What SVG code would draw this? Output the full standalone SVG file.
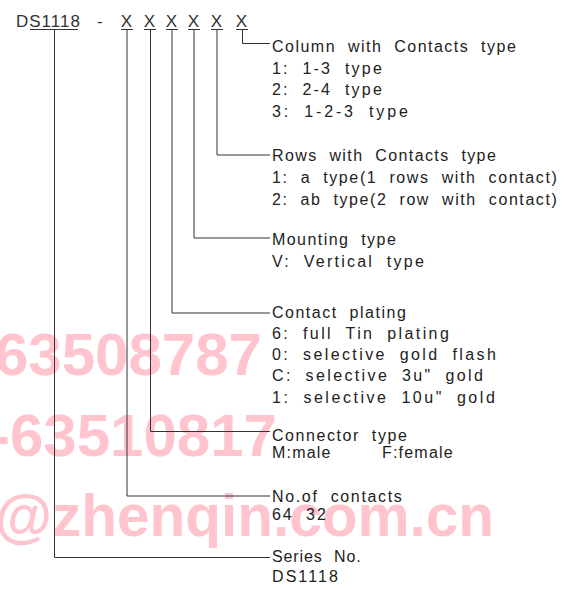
<svg xmlns="http://www.w3.org/2000/svg" width="574" height="589" viewBox="0 0 574 589">
<style>
.t{font-family:"Liberation Sans",Arial,sans-serif;font-size:16px;fill:#222;letter-spacing:1.2px;word-spacing:6px}
.h{font-family:"Liberation Sans",Arial,sans-serif;font-size:17px;fill:#333;letter-spacing:1px}
.wm{font-family:"Liberation Sans",Arial,sans-serif;font-size:60px;font-weight:bold;fill:#ffc4cd}
.ln{fill:none;stroke:#333;stroke-width:1}
</style>
<rect width="574" height="589" fill="#fff"/>
<g id="watermark">
<text class="wm" x="-5" y="375">63508787</text>
<text class="wm" x="-10" y="456">-63510817</text>
<text class="wm" x="-5" y="536" style="font-size:58.5px">@zhenqin.com.cn</text>
</g>
<g id="code">
<text class="h" x="16" y="27">DS1118</text>
<text class="h" x="97" y="27">-</text>
<text class="h" y="27" text-anchor="middle"><tspan x="127">X</tspan><tspan x="150">X</tspan><tspan x="172">X</tspan><tspan x="194">X</tspan><tspan x="217">X</tspan><tspan x="242">X</tspan></text>
</g>
<g id="connectors">
<path class="ln" d="M30 29.5H78M121 29.5H133M144 29.5H156M166 29.5H178M188 29.5H200M211 29.5H223M236 29.5H248"/>
<path class="ln" d="M54.5 29.5V557.5H270"/>
<path class="ln" d="M127 29.5V496H270"/>
<path class="ln" d="M150.5 29.5V431.5H270"/>
<path class="ln" d="M172 29.5V313H270"/>
<path class="ln" d="M194 29.5V238H270"/>
<path class="ln" d="M217 29.5V155H270"/>
<path class="ln" d="M242.5 29.5V43.5H270"/>
</g>
<g id="column">
<text class="t" x="272" y="51.5" textLength="245">Column with Contacts type</text>
<text class="t" x="272" y="73.5" textLength="111">1: 1-3 type</text>
<text class="t" x="272" y="95" textLength="111">2: 2-4 type</text>
<text class="t" x="272" y="116.5" textLength="137">3: 1-2-3 type</text>
</g>
<g id="rows">
<text class="t" x="272" y="161" textLength="225">Rows with Contacts type</text>
<text class="t" x="272" y="183" textLength="286">1: a type(1 rows with contact)</text>
<text class="t" x="272" y="204.5" textLength="286">2: ab type(2 row with contact)</text>
</g>
<g id="mounting">
<text class="t" x="272" y="245" textLength="125">Mounting type</text>
<text class="t" x="272" y="266.5" textLength="153">V: Vertical type</text>
</g>
<g id="plating">
<text class="t" x="272" y="318" textLength="135">Contact plating</text>
<text class="t" x="272" y="338.5" textLength="178">6: full Tin plating</text>
<text class="t" x="272" y="359.5" textLength="225">0: selective gold flash</text>
<text class="t" x="272" y="381" textLength="212">C: selective 3u" gold</text>
<text class="t" x="272" y="403" textLength="224">1: selective 10u" gold</text>
</g>
<g id="connector-type">
<text class="t" x="272" y="440.5" textLength="136">Connector type</text>
<text class="t" y="457.5"><tspan x="272">M:male</tspan><tspan x="382">F:female</tspan></text>
</g>
<g id="contacts">
<text class="t" x="272" y="502" textLength="131">No.of contacts</text>
<text class="t" x="272" y="520" textLength="55">64 32</text>
</g>
<g id="series">
<text class="t" x="272" y="562" textLength="90">Series No.</text>
<text class="t" x="272" y="582" textLength="67">DS1118</text>
</g>
</svg>
